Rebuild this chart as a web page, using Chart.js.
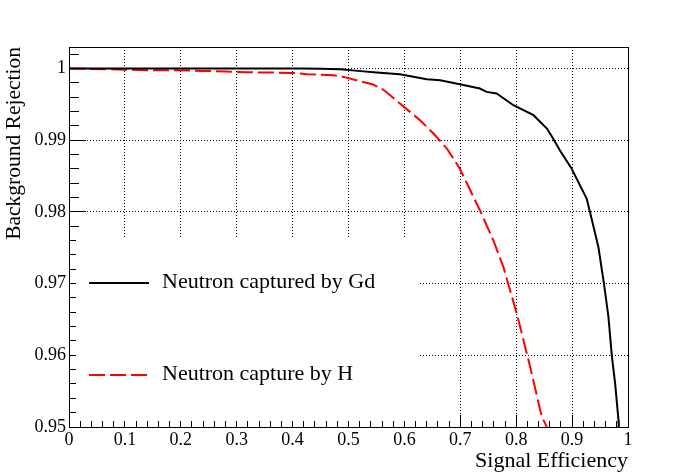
<!DOCTYPE html>
<html>
<head>
<meta charset="utf-8">
<title>Background Rejection vs Signal Efficiency</title>
<script src="https://cdn.jsdelivr.net/npm/chart.js@4/dist/chart.umd.min.js"></script>
<style>
  html, body { margin: 0; padding: 0; background: #fff; }
</style>
</head>
<body>
<canvas id="rocChart" width="698" height="474"></canvas>
<script>
// Neutron captured by Gd
const effGd = [0, 0.1, 0.2, 0.3, 0.413, 0.45, 0.485, 0.517, 0.55, 0.592, 0.64, 0.664, 0.699, 0.735, 0.747, 0.765, 0.795, 0.831, 0.84, 0.855, 0.866, 0.878, 0.899, 0.926, 0.932, 0.947, 0.957, 0.965, 0.971, 0.977, 0.983, 0.9835];
const rejGd = [1.0, 1.0, 1.0, 1.0, 0.99999, 0.99995, 0.9999, 0.99967, 0.99944, 0.9992, 0.99851, 0.99837, 0.99781, 0.99721, 0.99674, 0.99651, 0.99488, 0.99349, 0.99279, 0.99163, 0.99024, 0.98861, 0.98605, 0.98187, 0.98, 0.97512, 0.97, 0.96535, 0.96, 0.95606, 0.95095, 0.9495];

// Neutron capture by H
const effH = [0, 0.035, 0.07, 0.14, 0.18, 0.24, 0.28, 0.32, 0.4, 0.426, 0.473, 0.491, 0.521, 0.544, 0.562, 0.574, 0.592, 0.61, 0.628, 0.652, 0.676, 0.699, 0.735, 0.759, 0.777, 0.801, 0.825, 0.843, 0.846, 0.856];
const rejH = [1.0, 0.99995, 0.9999, 0.99977, 0.99976, 0.99967, 0.99958, 0.99948, 0.99939, 0.9992, 0.99907, 0.99883, 0.99823, 0.99777, 0.99707, 0.9963, 0.99512, 0.99395, 0.99279, 0.99093, 0.98884, 0.98605, 0.98024, 0.97605, 0.97233, 0.96583, 0.95838, 0.95234, 0.95141, 0.9498];

const seriesNames = ['Neutron captured by Gd', 'Neutron capture by H'];

const xTickValues = [0, 0.1, 0.2, 0.3, 0.4, 0.5, 0.6, 0.7, 0.8, 0.9, 1];
const xTickLabels = ['0', '0.1', '0.2', '0.3', '0.4', '0.5', '0.6', '0.7', '0.8', '0.9', '1'];
const yTickValues = [0.95, 0.96, 0.97, 0.98, 0.99, 1];
const yTickLabels = ['0.95', '0.96', '0.97', '0.98', '0.99', '1'];

const FONT = 'Liberation Serif';

function toPoints(xs, ys) {
    return xs.map((v, i) => ({ x: v, y: ys[i] }));
}

function alignPx(p) {
    return Math.round(p - 0.5) + 0.5;
}

// ROOT-like frame: inward ticks, solid box, legend box in lower left
const rootFrame = {
    id: 'rootFrame',
    afterDatasetsDraw(chart) {
        const { ctx, chartArea: a, scales: { x, y } } = chart;
        ctx.save();
        ctx.strokeStyle = '#000';
        ctx.lineWidth = 1;
        ctx.setLineDash([]);
        ctx.beginPath();
        for (let i = 0; i <= 50; i++) {
            const px = alignPx(x.getPixelForValue(i / 50));
            const len = i % 5 === 0 ? 12 : 6;
            ctx.moveTo(px, a.bottom);
            ctx.lineTo(px, a.bottom - len);
        }
        for (let i = 0; i <= 26; i++) {
            const py = alignPx(y.getPixelForValue(0.95 + i * 0.002));
            const len = i % 5 === 0 ? 17 : 10;
            ctx.moveTo(a.left, py);
            ctx.lineTo(a.left + len, py);
        }
        ctx.stroke();
        ctx.strokeRect(alignPx(a.left), alignPx(a.top), Math.round(a.right - a.left), Math.round(a.bottom - a.top));

        // legend
        ctx.fillStyle = '#fff';
        ctx.fillRect(a.left + 7, 237, 342, 184);
        ctx.font = '22px "' + FONT + '"';
        ctx.textBaseline = 'middle';
        ctx.textAlign = 'left';
        chart.data.datasets.forEach((ds, i) => {
            const ly = 283 + i * 92;
            ctx.strokeStyle = ds.borderColor;
            ctx.lineWidth = ds.borderWidth;
            ctx.setLineDash(ds.borderDash || []);
            ctx.beginPath();
            ctx.moveTo(89, ly);
            ctx.lineTo(149, ly);
            ctx.stroke();
            ctx.fillStyle = '#000';
            ctx.fillText(ds.label, 162, ly - 1);
        });
        ctx.restore();
    }
};

const gridOpts = { color: '#000', lineWidth: 1, drawTicks: false, borderDash: [1, 2] };
const borderOpts = { display: false, dash: [1, 2] };

new Chart(document.getElementById('rocChart'), {
    type: 'scatter',
    data: {
        datasets: [
            {
                label: seriesNames[0],
                data: toPoints(effGd, rejGd),
                showLine: true,
                borderColor: '#000000',
                borderWidth: 2,
                pointRadius: 0,
                tension: 0
            },
            {
                label: seriesNames[1],
                data: toPoints(effH, rejH),
                showLine: true,
                borderColor: '#ff0000',
                borderWidth: 2,
                borderDash: [16, 5],
                pointRadius: 0,
                tension: 0
            }
        ]
    },
    options: {
        responsive: false,
        animation: false,
        layout: { padding: { left: 0, top: 47, right: 70, bottom: 0 } },
        plugins: { legend: { display: false }, tooltip: { enabled: false } },
        scales: {
            x: {
                type: 'linear',
                min: 0,
                max: 1,
                afterBuildTicks: s => { s.ticks = xTickValues.map(v => ({ value: v })); },
                afterFit: s => { s.height = 47; },
                grid: gridOpts,
                border: borderOpts,
                ticks: {
                    color: '#000',
                    font: { family: FONT, size: 18 },
                    padding: 2,
                    maxRotation: 0,
                    autoSkip: false,
                    callback: (v, i) => xTickLabels[i]
                },
                title: {
                    display: true,
                    text: 'Signal Efficiency',
                    align: 'end',
                    color: '#000',
                    font: { family: FONT, size: 22 },
                    padding: { top: 0, bottom: 0 }
                }
            },
            y: {
                type: 'linear',
                min: 0.95,
                max: 1.003,
                afterBuildTicks: s => { s.ticks = yTickValues.map(v => ({ value: v })); },
                afterFit: s => { s.width = 69; },
                grid: gridOpts,
                border: borderOpts,
                ticks: {
                    color: '#000',
                    font: { family: FONT, size: 18 },
                    padding: 3,
                    autoSkip: false,
                    callback: (v, i) => yTickLabels[i]
                },
                title: {
                    display: true,
                    text: 'Background Rejection',
                    align: 'end',
                    color: '#000',
                    font: { family: FONT, size: 21.5 },
                    padding: { top: 1, bottom: 0 }
                }
            }
        }
    },
    plugins: [rootFrame]
});
</script>
</body>
</html>
